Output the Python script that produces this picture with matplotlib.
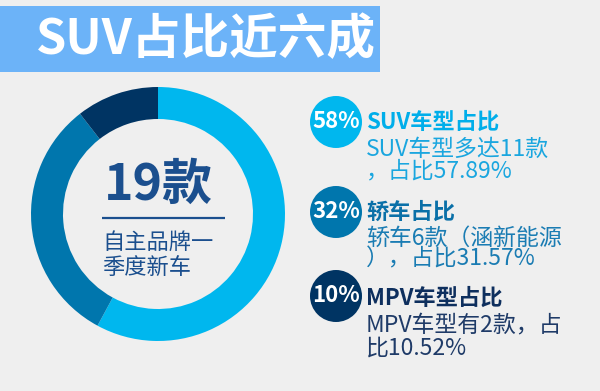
import matplotlib
matplotlib.use("Agg")
import matplotlib.pyplot as plt
from matplotlib.patches import Rectangle, Circle

plt.rcParams['font.family'] = ['Noto Sans CJK SC', 'DejaVu Sans']

# ---- data ----
categories = ['SUV', '轿车', 'MPV']
shares = [57.89, 31.57, 10.52]
pct_labels = ['58%', '32%', '10%']
headings = ['SUV车型占比', '轿车占比', 'MPV车型占比']
details = [['SUV车型多达11款', '，占比57.89%'],
           ['轿车6款（涵新能源', '），占比31.57%'],
           ['MPV车型有2款，占', '比10.52%']]
title = 'SUV占比近六成'
total_label = '19款'
sub_label = ['自主品牌一', '季度新车']

# ---- styles ----
seg_colors = ['#00b7ee', '#0076ad', '#003463']
head_colors = ['#00aeea', '#0a70a8', '#0e2f5e']
body_colors = ['#1aa6df', '#1a7cb3', '#1f3b68']
bg = '#efefef'
banner = '#6cb3f8'
center_col = '#1b4f8e'

W, H = 600, 391
fig = plt.figure(figsize=(6.0, 3.91), dpi=100)
fig.patch.set_facecolor(bg)
ax = fig.add_axes([0, 0, 1, 1])
ax.set_xlim(0, W)
ax.set_ylim(0, H)
ax.set_aspect('equal')
ax.axis('off')

def Y(y):
    return H - y

# banner
ax.add_patch(Rectangle((0, Y(72)), 380, 66, color=banner, lw=0))
ax.text(36, Y(40), title, color='white', fontsize=35, fontweight='bold',
        ha='left', va='center')

# donut
ax.pie(shares, colors=seg_colors, startangle=90, counterclock=False,
       center=(158, Y(214)), radius=127,
       wedgeprops=dict(width=32, linewidth=0))
ax.set_xlim(0, W)
ax.set_ylim(0, H)

# center text
ax.text(158, Y(185), total_label, color=center_col, fontsize=36,
        fontweight='bold', ha='center', va='center')
ax.plot([102, 225], [Y(218), Y(218)], color=center_col, lw=1.6,
        solid_capstyle='butt')
ax.text(102, Y(242), sub_label[0], color=center_col, fontsize=16,
        ha='left', va='center')
ax.text(102, Y(267), sub_label[1], color=center_col, fontsize=16,
        ha='left', va='center')

# right legend blocks
circ_y = [122, 212, 296]
head_y = [122, 212, 298]
line1_y = [149, 238, 326]
line2_y = [171, 259, 348]
for i in range(len(categories)):
    ax.add_patch(Circle((336, Y(circ_y[i])), 26, color=seg_colors[i], lw=0))
    ax.text(336, Y(circ_y[i]), pct_labels[i], color='white', fontsize=16,
            fontweight='bold', ha='center', va='center')
    ax.text(366, Y(head_y[i]), headings[i], color=head_colors[i],
            fontsize=16, fontweight='bold', ha='left', va='center')
    ax.text(366, Y(line1_y[i]), details[i][0], color=body_colors[i],
            fontsize=16.5, ha='left', va='center')
    ax.text(366, Y(line2_y[i]), details[i][1], color=body_colors[i],
            fontsize=16.5, ha='left', va='center')

fig.savefig('out.png', dpi=100, facecolor=bg)
